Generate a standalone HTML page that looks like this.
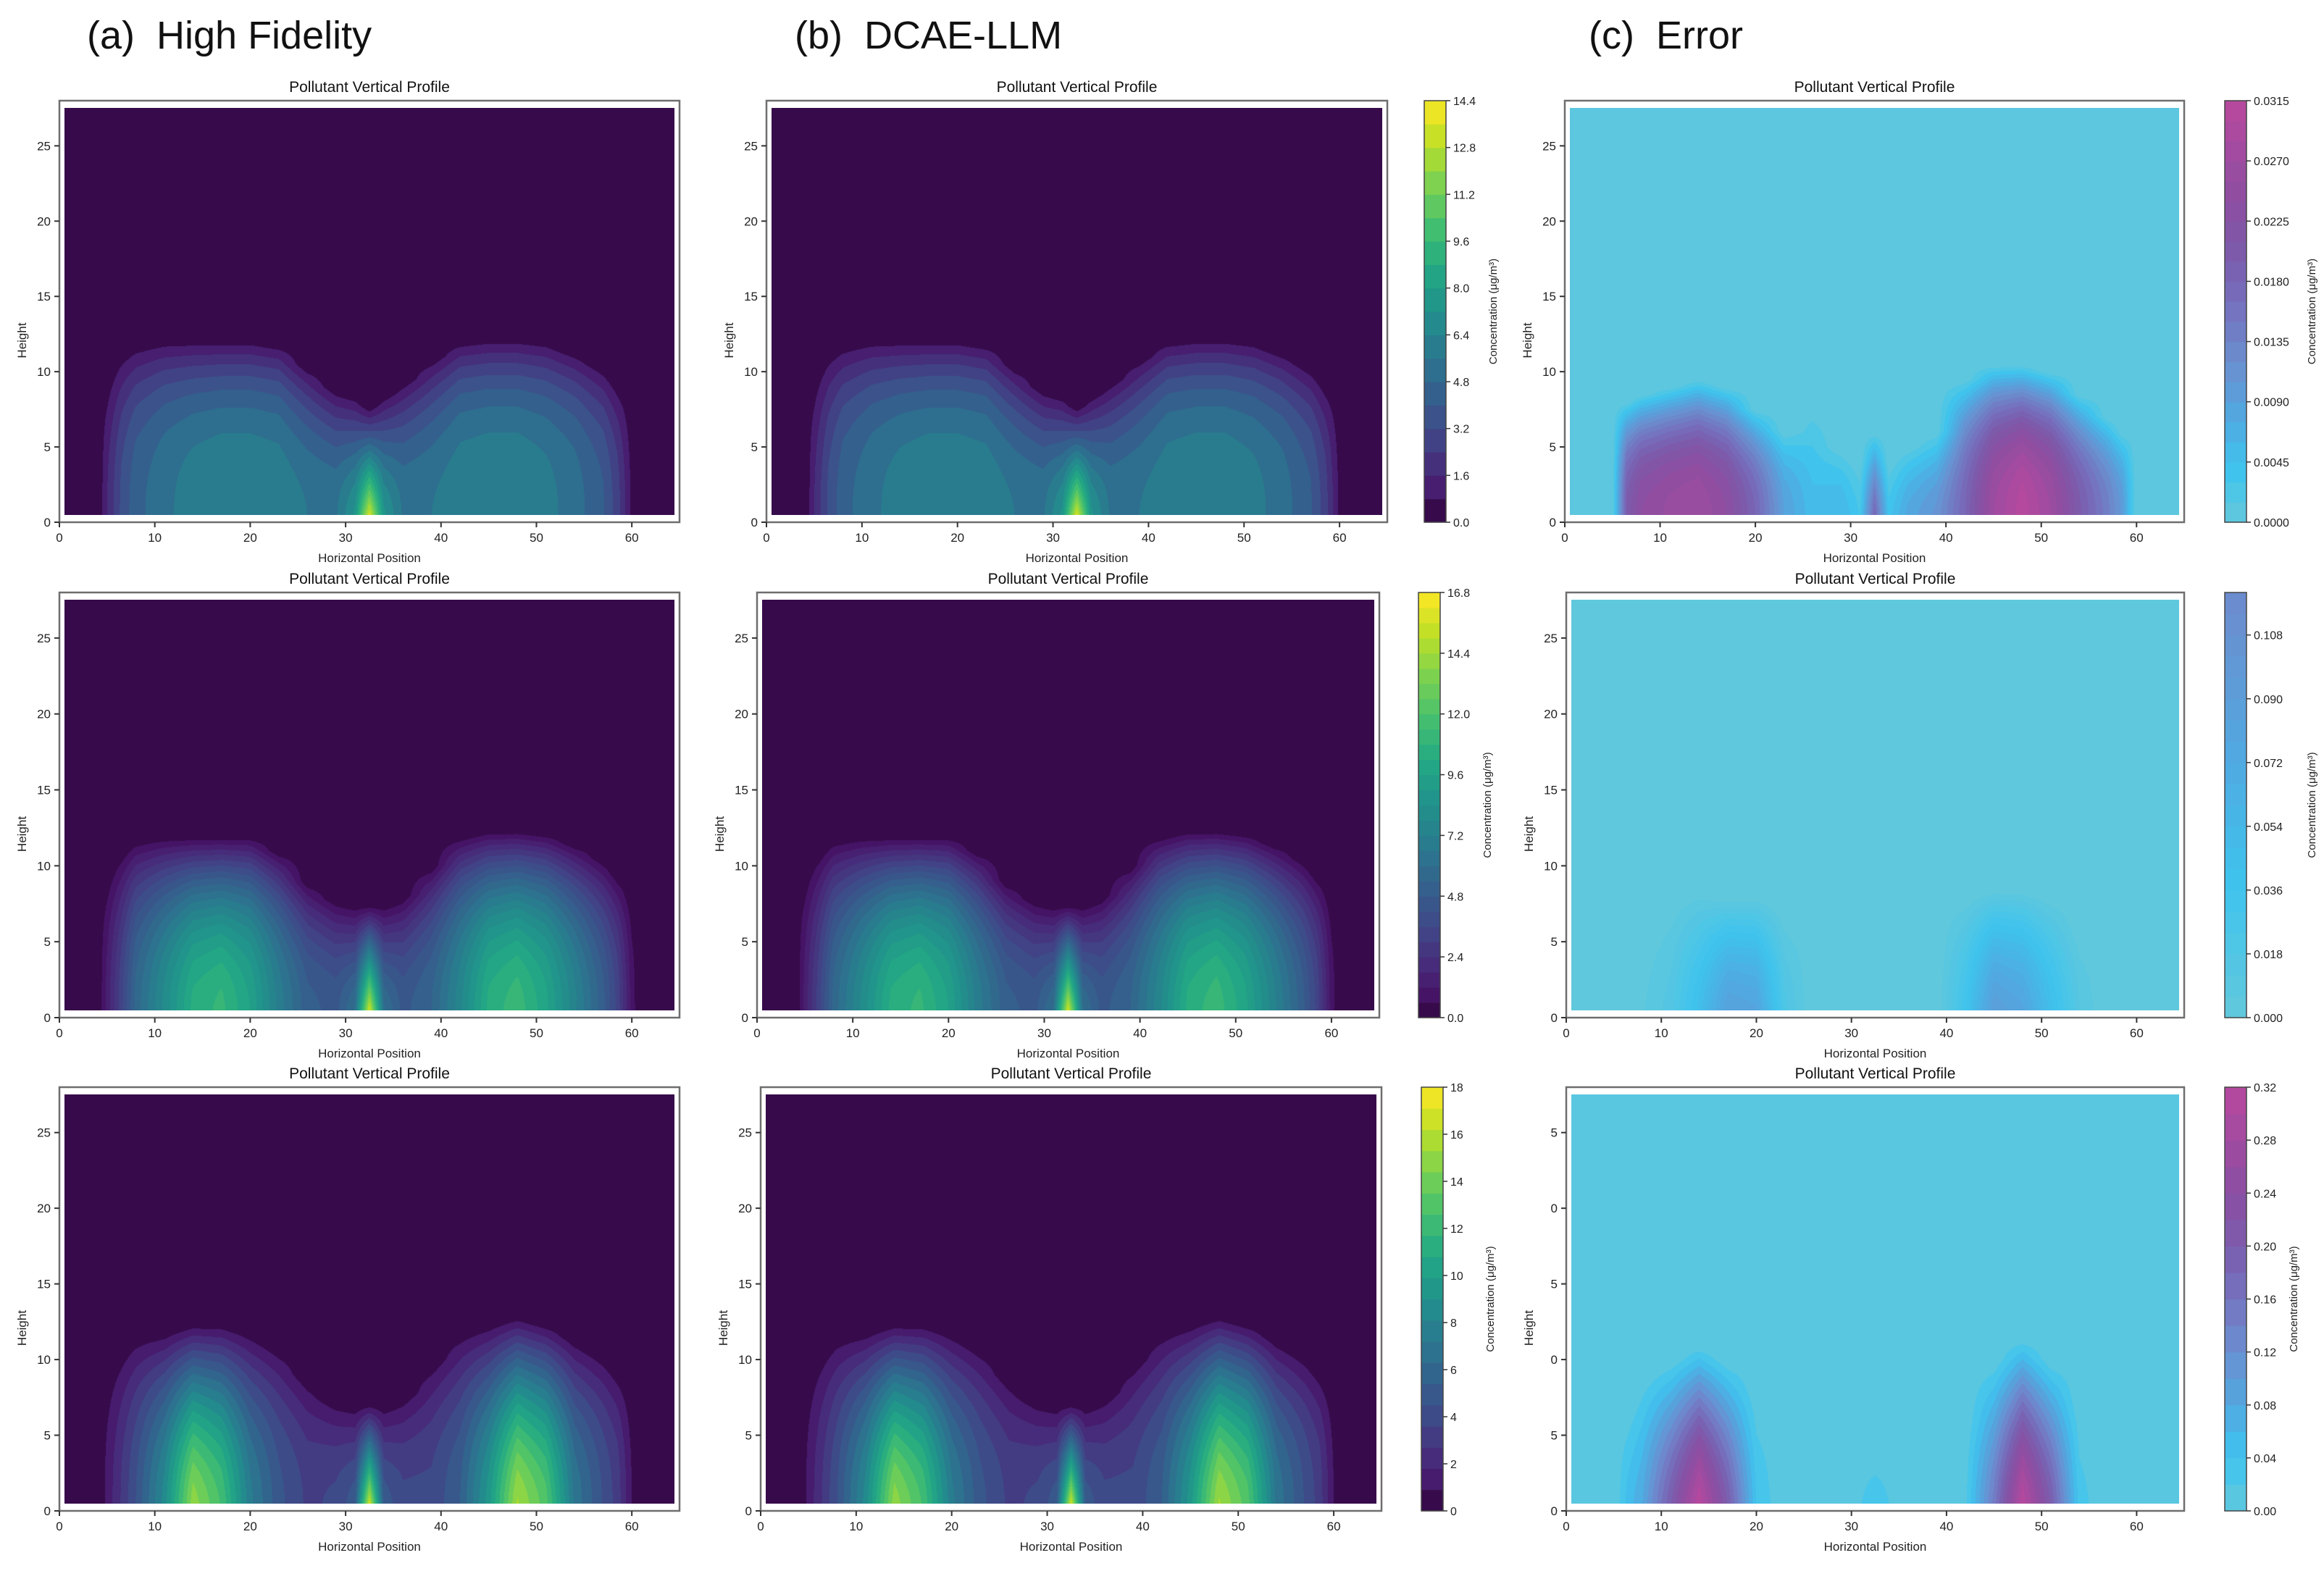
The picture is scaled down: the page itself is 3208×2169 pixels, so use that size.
<!DOCTYPE html>
<html><head><meta charset="utf-8">
<style>
html,body{margin:0;padding:0;background:#fff;}
#root{position:relative;width:3208px;height:2169px;overflow:hidden;background:#fff;font-family:"Liberation Sans",sans-serif;}
canvas{position:absolute;}
svg{position:absolute;left:0;top:0;}
.hdr{position:absolute;font-size:54px;color:#111;white-space:pre;}
</style></head>
<body>
<div id="root">
<div class="hdr" style="left:120px;top:18px">(a)  High Fidelity</div>
<div class="hdr" style="left:1097px;top:18px">(b)  DCAE-LLM</div>
<div class="hdr" style="left:2193px;top:18px">(c)  Error</div>
<svg id="svg" width="3208" height="2169"></svg>
</div>
<script>
// ---- data ----
const xs = [0,4,5,6.5,8,11,14,17,20,23,26,29,31,32.5,34,36,39,42,45,48,51,54,57,58.5,60,61,65];
const row1Amp = [0,0,1.6,3.4,4.5,5.4,6.0,6.3,6.3,6.1,5.6,5.5,7.5,14.4,7.5,5.5,5.6,6.1,6.3,6.3,5.9,5.2,4.1,2.8,0.6,0,0];
const row1Top = [1,1,10,11.5,12,12.3,12.3,12.3,12.3,12,10.5,9,8.6,7.8,8.6,9.5,11,12.2,12.4,12.4,12.2,11.5,10.5,9.5,8,1,1];
const row1Pow = [2.5,2.5,2.5,2.6,2.8,3,3,3,3,3,2.5,2.2,1.6,1,1.6,2.2,2.5,3,3,3,3,3,2.8,2.6,2.5,2.5,2.5];
const row2Amp = [0,0,1.4,3.4,5.6,8,10.4,11,9.6,7,5,4.6,6.2,16.8,6.2,4.6,5.4,7.6,10.4,11.2,9.8,7.4,5,3.4,0.9,0,0];
const row2Top = [1,1,9.5,11,11.8,12,12,12,12,11,9,7.8,7.5,7.5,7.5,8,10,12,12.4,12.4,12.2,11.5,10.5,9.5,8,1,1];
const row2Pow = [2.5,2.5,2.5,2.4,2.4,2.3,2.2,2.2,2.3,2.4,2.4,2.2,1.6,1,1.6,2.2,2.4,2.4,2.2,2.2,2.3,2.4,2.4,2.5,2.5,2.5,2.5];
const row3Amp = [0,0,1.2,2.8,4.5,8.5,15,12.5,7.5,4.8,3.4,3.8,5.2,18,5.2,3.8,3.8,5.4,9.5,15.5,13,7,4.4,3.2,0.9,0,0];
const row3Top = [1,1,9.5,11,11.8,12,12.5,12.5,12,11,9,7.5,7.2,7.2,7.2,7.8,10,12,12.5,13,12.5,11.5,10.5,9.5,8,1,1];
const row3Pow = [2.5,2.5,2.5,2.4,2.3,2,1.7,1.8,2,2.3,2.4,2.2,1.6,1,1.6,2.2,2.4,2.2,1.9,1.7,1.8,2.1,2.4,2.5,2.5,2.5,2.5];
const err1Amp = [0,0,0,0.02,0.024,0.026,0.027,0.024,0.018,0.009,0.005,0.006,0.003,0.018,0.004,0.008,0.011,0.018,0.027,0.031,0.027,0.02,0.014,0.01,0,0,0];
const err1Top = [1,1,1,8,8.5,9,9.5,9,7.5,6,8,5,4,6,4,5,6,9.5,10.5,10.5,10,8.5,7,6,1,1,1];
const err1Pow = [2.5,2.5,2.5,2.5,2.5,2.5,2.5,2.5,2.5,2.5,2,2,1.5,1.5,1.5,2,2,2.5,2.5,2.5,2.5,2.5,2.5,2.5,2.5,2.5,2.5];
const err2Amp = [0,0,0,0,0.005,0.015,0.045,0.085,0.08,0.02,0,0,0,0,0,0,0,0.035,0.09,0.08,0.045,0.012,0,0,0,0,0];
const err2Top = [1,1,1,1,6,8,8.5,8,8,7,1,1,1,1,1,1,1,8,8.5,8.5,8,6,1,1,1,1,1];
const err2Pow = [1.6,1.6,1.6,1.6,1.6,1.6,1.6,1.6,1.6,1.6,1.6,1.6,1.6,1.6,1.6,1.6,1.6,1.6,1.6,1.6,1.6,1.6,1.6,1.6,1.6,1.6,1.6];
const err3Amp = [0,0,0,0.05,0.08,0.2,0.32,0.2,0.04,0,0.01,0.02,0.02,0.03,0.02,0,0,0.015,0.15,0.32,0.2,0.03,0,0,0,0,0];
const err3Top = [1,1,1,7,9,10,11,10,8,1,6,6,6,5,6,1,1,6,10,11.5,10,7,1,1,1,1,1];
const err3Pow = [1.5,1.5,1.5,1.5,1.5,1.5,1.5,1.5,1.5,1.5,1.5,1.5,1.5,1.5,1.5,1.5,1.5,1.5,1.5,1.5,1.5,1.5,1.5,1.5,1.5,1.5,1.5];
const xTicks = [0,10,20,30,40,50,60];
const yTicks = [0,5,10,15,20,25];
const cb1Ticks = [0,1.6,3.2,4.8,6.4,8.0,9.6,11.2,12.8,14.4];
const cb2Ticks = [0,2.4,4.8,7.2,9.6,12.0,14.4,16.8];
const cb3Ticks = [0,2,4,6,8,10,12,14,16,18];
const ce1Ticks = [0,0.0045,0.009,0.0135,0.018,0.0225,0.027,0.0315];
const ce2Ticks = [0,0.018,0.036,0.054,0.072,0.09,0.108];
const ce3Ticks = [0,0.04,0.08,0.12,0.16,0.20,0.24,0.28,0.32];

// ---- colormaps ----
const VIR = [[0,'#440154'],[0.1,'#482475'],[0.2,'#414487'],[0.3,'#355f8d'],[0.4,'#2a788e'],[0.5,'#21918c'],[0.6,'#22a884'],[0.7,'#44bf70'],[0.8,'#7ad151'],[0.9,'#bddf26'],[1,'#fde725']];
const ERR = [[0,'#63c8dc'],[0.125,'#3ec4ee'],[0.25,'#52a8e0'],[0.375,'#6a8fd0'],[0.5,'#7474c0'],[0.625,'#7c5cad'],[0.75,'#8a4fa2'],[1,'#b8489e']];
function hex(h){return [parseInt(h.slice(1,3),16),parseInt(h.slice(3,5),16),parseInt(h.slice(5,7),16)];}
function cmap(stops,t){
  t=Math.max(0,Math.min(1,t));
  for(let i=1;i<stops.length;i++){ if(t<=stops[i][0]){const a=stops[i-1],b=stops[i];const f=(t-a[0])/(b[0]-a[0]);const ca=hex(a[1]),cb=hex(b[1]);return ca.map((v,k)=>Math.round(v+(cb[k]-v)*f));}}
  return hex(stops[stops.length-1][1]);
}
function field(amp,top,pw,x,y){
  function col(i){const h=top[i];if(y>=h)return 0;return amp[i]*(1-Math.pow(y/h,pw[i]));}
  let i=0;while(i<xs.length-2&&x>xs[i+1])i++;
  const f=(x-xs[i])/(xs[i+1]-xs[i]);
  return Math.max(0,col(i)*(1-f)+col(i+1)*f);
}
const R1={amp:row1Amp,top:row1Top,pow:row1Pow}, R2={amp:row2Amp,top:row2Top,pow:row2Pow}, R3={amp:row3Amp,top:row3Top,pow:row3Pow};
const E1={amp:err1Amp,top:err1Top,pow:err1Pow}, E2={amp:err2Amp,top:err2Top,pow:err2Pow}, E3={amp:err3Amp,top:err3Top,pow:err3Pow};
const panels=[
 {n:'hf-row1',L:82,R:938,T:139,B:721,F:R1,cm:VIR,vmax:14.4,lv:18,cmx:1},
 {n:'dcae-row1',L:1058,R:1915,T:139,B:721,F:R1,cm:VIR,vmax:14.4,lv:18,cmx:1,cb:{x:1966,ticks:cb1Ticks,dec:1}},
 {n:'error-row1',L:2160,R:3015,T:139,B:721,F:E1,cm:ERR,vmax:0.0315,lv:21,cmx:1,cb:{x:3071,ticks:ce1Ticks,dec:4}},
 {n:'hf-row2',L:82,R:938,T:818,B:1405,F:R2,cm:VIR,vmax:16.8,lv:28,cmx:1},
 {n:'dcae-row2',L:1045,R:1904,T:818,B:1405,F:R2,cm:VIR,vmax:16.8,lv:28,cmx:1,cb:{x:1958,ticks:cb2Ticks,dec:1}},
 {n:'error-row2',L:2162,R:3015,T:818,B:1405,F:E2,cm:ERR,vmax:0.12,lv:20,cmx:0.4,cb:{x:3071,ticks:ce2Ticks,dec:3}},
 {n:'hf-row3',L:82,R:938,T:1501,B:2086,F:R3,cm:VIR,vmax:18,lv:20,cmx:1},
 {n:'dcae-row3',L:1050,R:1907,T:1501,B:2086,F:R3,cm:VIR,vmax:18,lv:20,cmx:1,cb:{x:1962,ticks:cb3Ticks,dec:0}},
 {n:'error-row3',L:2162,R:3015,T:1501,B:2086,F:E3,cm:ERR,vmax:0.32,lv:16,cmx:1,cb:{x:3071,ticks:ce3Ticks,dec:2},clip:true}
];
const svg=document.getElementById('svg');
const root=document.getElementById('root');
const NS='http://www.w3.org/2000/svg';
function mk(tag,at,txt){const e=document.createElementNS(NS,tag);for(const k in at)e.setAttribute(k,at[k]);if(txt!==undefined)e.textContent=txt;svg.appendChild(e);return e;}
function bandColor(p,i){if(i===0&&p.cm===VIR)return hex('#370a4b');return cmap(p.cm,(i+0.5)/p.lv*p.cmx);}
function levelColor(p,v){let i=Math.floor(v/p.vmax*p.lv);i=Math.max(0,Math.min(p.lv-1,i));return bandColor(p,i);}

panels.forEach(p=>{
  const sx=v=>p.L+(p.R-p.L)*v/65, sy=v=>p.B-(p.B-p.T)*v/28;
  const x0=Math.round(sx(0.5)),x1=Math.round(sx(64.5)),y0=Math.round(sy(27.5)),y1=Math.round(sy(0.5));
  const cv=document.createElement('canvas');
  
  
  cv.width=x1-x0;cv.height=y1-y0;cv.style.left=x0+'px';cv.style.top=y0+'px';
  root.insertBefore(cv,svg);
  const ctx=cv.getContext('2d');const img=ctx.createImageData(cv.width,cv.height);
  for(let j=0;j<cv.height;j++){const yv=(p.B-(y0+j+0.5))/(p.B-p.T)*28;
    for(let i=0;i<cv.width;i++){const xv=(x0+i+0.5-p.L)/(p.R-p.L)*65;
      const c=levelColor(p,field(p.F.amp,p.F.top,p.F.pow,xv,yv));const o=(j*cv.width+i)*4;
      img.data[o]=c[0];img.data[o+1]=c[1];img.data[o+2]=c[2];img.data[o+3]=255;}}
  ctx.putImageData(img,0,0);
  const fr=mk('rect',{x:p.L,y:p.T,width:p.R-p.L,height:p.B-p.T,fill:'none',stroke:'#6e6e6e','stroke-width':2.5});
  
  
  const t=mk('text',{x:(p.L+p.R)/2,y:p.T-12,'text-anchor':'middle','font-size':21,fill:'#111'},'Pollutant Vertical Profile');
  
  
  xTicks.forEach(v=>{
    const tk=mk('line',{x1:sx(v),x2:sx(v),y1:p.B,y2:p.B+7,stroke:'#333','stroke-width':2});
    
    
    const tl=mk('text',{x:sx(v),y:p.B+27,'text-anchor':'middle','font-size':17,fill:'#222'},String(v));
    
    
  });
  yTicks.forEach(v=>{
    const tk=mk('line',{x1:p.L-7,x2:p.L,y1:sy(v),y2:sy(v),stroke:'#333','stroke-width':2});
    
    
    const s=p.clip?String(v%10===0?0:5):String(v);
    const tl=mk('text',{x:p.L-12,y:sy(v)+6,'text-anchor':'end','font-size':17,fill:'#222'},s);
    
    
  });
  const xl=mk('text',{x:(p.L+p.R)/2,y:p.B+55,'text-anchor':'middle','font-size':17,fill:'#222'},'Horizontal Position');
  
  
  const yx=p.L-46,yy=(p.T+p.B)/2+40;
  const yl=mk('text',{x:yx,y:yy,'text-anchor':'middle','font-size':17,fill:'#222',transform:'rotate(-90 '+yx+' '+(yy)+')'},'Height');
  
  
  if(p.cb){
    const cb=p.cb,w=30,h=p.B-p.T;
    for(let i=0;i<p.lv;i++){
      const c=bandColor(p,i);
      const r=mk('rect',{x:cb.x,y:p.B-h*(i+1)/p.lv,width:w,height:h/p.lv+0.6,fill:'rgb('+c.join(',')+')'});
      
      
    }
    const o=mk('rect',{x:cb.x,y:p.T,width:w,height:h,fill:'none',stroke:'#444','stroke-width':1.5});
    
    
    cb.ticks.forEach(v=>{
      const yv=p.B-h*v/p.vmax;
      const tk=mk('line',{x1:cb.x+w,x2:cb.x+w+6,y1:yv,y2:yv,stroke:'#333','stroke-width':1.5});
      
      
      const tl=mk('text',{x:cb.x+w+10,y:yv+6,'font-size':16,fill:'#222'},v.toFixed(cb.dec));
      
      
    });
    const lx=cb.x+w+(cb.dec>=3?95:70),ly=(p.T+p.B)/2;
    const cl=mk('text',{x:lx,y:ly,'text-anchor':'middle','font-size':15,fill:'#222',transform:'rotate(-90 '+lx+' '+ly+')'},'Concentration (μg/m³)');
    
    
  }
});
</script>
</body></html>
